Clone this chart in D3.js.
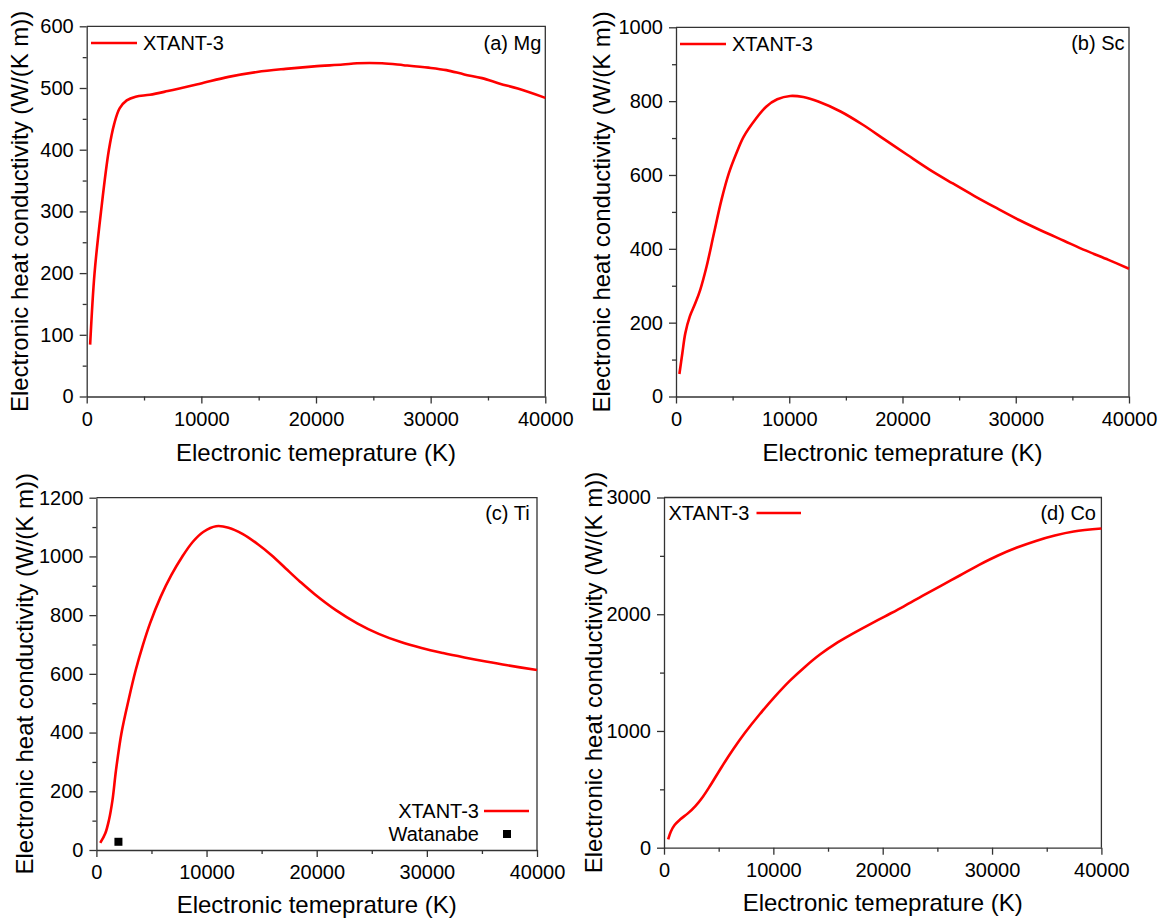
<!DOCTYPE html>
<html>
<head>
<meta charset="utf-8">
<script src="https://cdn.jsdelivr.net/npm/d3@7"></script>
<style>
  body { margin: 0; background: #fff; }
  svg { display: block; font-family: "Liberation Sans", Arial, sans-serif; }
  .tick text { font-size: 20px; fill: #000; }
  .axis path, .axis line { stroke: #333; stroke-width: 1.3; }
</style>
</head>
<body>
<svg id="chart" width="1164" height="920"></svg>
<script>
// === DATA (temperature K, conductivity W/(K m)) ===

const MG_DATA = [
    [300, 84], [685, 200], [1250, 300], [1930, 399], [2400, 442], [2870, 467],
    [3490, 480], [4270, 486], [5510, 489], [7070, 495], [9880, 507], [12370, 518],
    [14860, 526], [17350, 531], [19840, 535], [22340, 538], [23580, 540], [25760, 540],
    [27630, 537], [29810, 533], [31370, 529], [32930, 522], [34480, 516], [36040, 507],
    [37600, 499], [40000, 484]
];

const SC_DATA = [
    [300, 61], [560, 117], [820, 171], [1220, 217], [1710, 253], [2140, 289],
    [2700, 352], [3350, 442], [4010, 532], [4670, 605], [5330, 659], [5980, 704],
    [6970, 749], [7960, 785], [8940, 805], [10090, 814], [11240, 811], [12560, 799],
    [14530, 772], [16500, 736], [18470, 695], [20450, 654], [22420, 614], [24390, 578],
    [26360, 543], [28330, 510], [30300, 478], [32280, 449], [34250, 422], [36220, 395],
    [38190, 370], [40000, 346]
];

const TI_DATA = [
    [350, 24], [810, 57], [1140, 102], [1460, 170], [1780, 272], [2270, 397],
    [2920, 511], [3570, 613], [4220, 698], [4870, 772], [5840, 863], [6810, 937],
    [7790, 999], [8760, 1050], [9730, 1084], [10870, 1103], [12000, 1098], [13300, 1076],
    [14600, 1043], [15900, 1004], [17190, 959], [18490, 914], [19790, 872], [21740, 817],
    [23680, 772], [25630, 736], [27570, 709], [29520, 688], [31470, 671], [33410, 656],
    [35360, 642], [37310, 629], [40000, 613]
];

const TI_WATANABE = [[2000, 28]];

const CO_DATA = [
    [380, 71], [620, 137], [970, 194], [1490, 243], [2180, 294], [2870, 357],
    [3560, 437], [4260, 537], [5290, 694], [6330, 843], [7370, 980], [8750, 1143],
    [10140, 1294], [11520, 1431], [12910, 1551], [14290, 1657], [15670, 1746], [17060, 1823],
    [18440, 1894], [20170, 1980], [21900, 2066], [23630, 2157], [25360, 2246], [27090, 2334],
    [28820, 2423], [30550, 2503], [32280, 2571], [34010, 2628], [35740, 2674], [37470, 2708],
    [40000, 2734]
];

const X_TICKS = [0, 10000, 20000, 30000, 40000];
const X_MINOR = [5000, 15000, 25000, 35000];

const X_TITLE = 'Electronic temeprature (K)';
const Y_TITLE = 'Electronic heat conductivity (W/(K m))';
const SERIES_NAME = 'XTANT-3';
const REF_NAME = 'Watanabe';

// === LAYOUT ===

const panels = [
    {
        label: '(a) Mg', data: MG_DATA, yMax: 600, yStep: 100,
        box: { left: 86.7, right: 545.3, top: 26.3, bottom: 396.5 },
        yTitleX: 20, xTitleY: 453, labelPos: [541.3, 43],
        legend: { type: 'left', x: 91, y: 43 }
    },
    {
        label: '(b) Sc', data: SC_DATA, yMax: 1000, yStep: 200,
        box: { left: 676, right: 1129, top: 27.3, bottom: 396.5 },
        yTitleX: 602, xTitleY: 453, labelPos: [1124.5, 43],
        legend: { type: 'left', x: 680, y: 44 }
    },
    {
        label: '(c) Ti', data: TI_DATA, ref: TI_WATANABE, yMax: 1200, yStep: 200,
        box: { left: 96.4, right: 537, top: 497.7, bottom: 850 },
        yTitleX: 25, xTitleY: 905, labelPos: [529.6, 513],
        legend: { type: 'right', x: 479, y: 811 }
    },
    {
        label: '(d) Co', data: CO_DATA, yMax: 3000, yStep: 1000,
        box: { left: 664, right: 1101.4, top: 497.5, bottom: 847.7 },
        yTitleX: 593.5, xTitleY: 903, labelPos: [1096, 513],
        legend: { type: 'textFirst', x: 668.5, y: 513 }
    }
];

const RED = '#ff0000';
const svg = d3.select('#chart');

panels.forEach(drawPanel);

function drawPanel(p) {
    const b = p.box;
    const x = d3.scaleLinear().domain([0, 40000]).range([b.left, b.right]);
    const y = d3.scaleLinear().domain([0, p.yMax]).range([b.bottom, b.top]);

    const yTicks = d3.range(0, p.yMax + 1, p.yStep);
    const yMinor = d3.range(p.yStep / 2, p.yMax, p.yStep);

    const g = svg.append('g');

    // frame (top + right)
    g.append('path')
        .attr('d', `M${b.left},${b.top}H${b.right}V${b.bottom}`)
        .attr('fill', 'none')
        .attr('stroke', '#333')
        .attr('stroke-width', 1.3);

    // minor ticks
    g.append('g').attr('class', 'axis')
        .attr('transform', `translate(0,${b.bottom})`)
        .call(d3.axisBottom(x).tickValues(X_MINOR).tickSize(4).tickFormat(''))
        .call(s => s.select('.domain').remove());
    g.append('g').attr('class', 'axis')
        .attr('transform', `translate(${b.left},0)`)
        .call(d3.axisLeft(y).tickValues(yMinor).tickSize(4).tickFormat(''))
        .call(s => s.select('.domain').remove());

    // major axes
    g.append('g').attr('class', 'axis')
        .attr('transform', `translate(0,${b.bottom})`)
        .call(d3.axisBottom(x).tickValues(X_TICKS).tickSize(7).tickSizeOuter(0)
            .tickPadding(8).tickFormat(d3.format('d')));
    g.append('g').attr('class', 'axis')
        .attr('transform', `translate(${b.left},0)`)
        .call(d3.axisLeft(y).tickValues(yTicks).tickSize(7).tickSizeOuter(0)
            .tickPadding(6).tickFormat(d3.format('d')));

    g.selectAll('.axis').attr('font-family', null).attr('font-size', null);

    // axis titles
    g.append('text')
        .attr('x', (b.left + b.right) / 2)
        .attr('y', p.xTitleY)
        .attr('dy', '0.35em')
        .attr('text-anchor', 'middle')
        .attr('font-size', 24)
        .text(X_TITLE);

    g.append('text')
        .attr('transform', `translate(${p.yTitleX},${(b.top + b.bottom) / 2}) rotate(-90)`)
        .attr('dy', '0.35em')
        .attr('text-anchor', 'middle')
        .attr('font-size', 24)
        .text(Y_TITLE);

    // curve
    const line = d3.line()
        .x(d => x(d[0]))
        .y(d => y(d[1]))
        .curve(d3.curveCatmullRom.alpha(0.5));

    g.append('path')
        .datum(p.data)
        .attr('d', line)
        .attr('fill', 'none')
        .attr('stroke', RED)
        .attr('stroke-width', 2.6)
        .attr('stroke-linejoin', 'round');

    if (p.ref) {
        g.selectAll('.ref-pt')
            .data(p.ref)
            .join('rect')
            .attr('class', 'ref-pt')
            .attr('x', d => x(d[0]) - 4)
            .attr('y', d => y(d[1]) - 4)
            .attr('width', 8)
            .attr('height', 8)
            .attr('fill', '#000');
    }

    // panel label
    g.append('text')
        .attr('x', p.labelPos[0])
        .attr('y', p.labelPos[1])
        .attr('dy', '0.35em')
        .attr('text-anchor', 'end')
        .attr('font-size', 20)
        .text(p.label);

    drawLegend(g, p.legend);
}

function drawLegend(g, lg) {
    if (lg.type === 'left') {
        g.append('line')
            .attr('x1', lg.x).attr('x2', lg.x + 46)
            .attr('y1', lg.y).attr('y2', lg.y)
            .attr('stroke', RED).attr('stroke-width', 2.6);
        g.append('text')
            .attr('x', lg.x + 52).attr('y', lg.y).attr('dy', '0.35em')
            .attr('font-size', 20).text(SERIES_NAME);
    } else if (lg.type === 'textFirst') {
        g.append('text')
            .attr('x', lg.x).attr('y', lg.y).attr('dy', '0.35em')
            .attr('font-size', 20).text(SERIES_NAME);
        g.append('line')
            .attr('x1', lg.x + 88).attr('x2', lg.x + 132.5)
            .attr('y1', lg.y).attr('y2', lg.y)
            .attr('stroke', RED).attr('stroke-width', 2.6);
    } else {
        g.append('text')
            .attr('x', lg.x).attr('y', lg.y).attr('dy', '0.35em')
            .attr('text-anchor', 'end')
            .attr('font-size', 20).text(SERIES_NAME);
        g.append('line')
            .attr('x1', lg.x + 5).attr('x2', lg.x + 50)
            .attr('y1', lg.y).attr('y2', lg.y)
            .attr('stroke', RED).attr('stroke-width', 2.6);
        g.append('text')
            .attr('x', lg.x).attr('y', lg.y + 23).attr('dy', '0.35em')
            .attr('text-anchor', 'end')
            .attr('font-size', 20).text(REF_NAME);
        g.append('rect')
            .attr('x', lg.x + 24).attr('y', lg.y + 19)
            .attr('width', 8).attr('height', 8)
            .attr('fill', '#000');
    }
}
</script>
</body>
</html>
